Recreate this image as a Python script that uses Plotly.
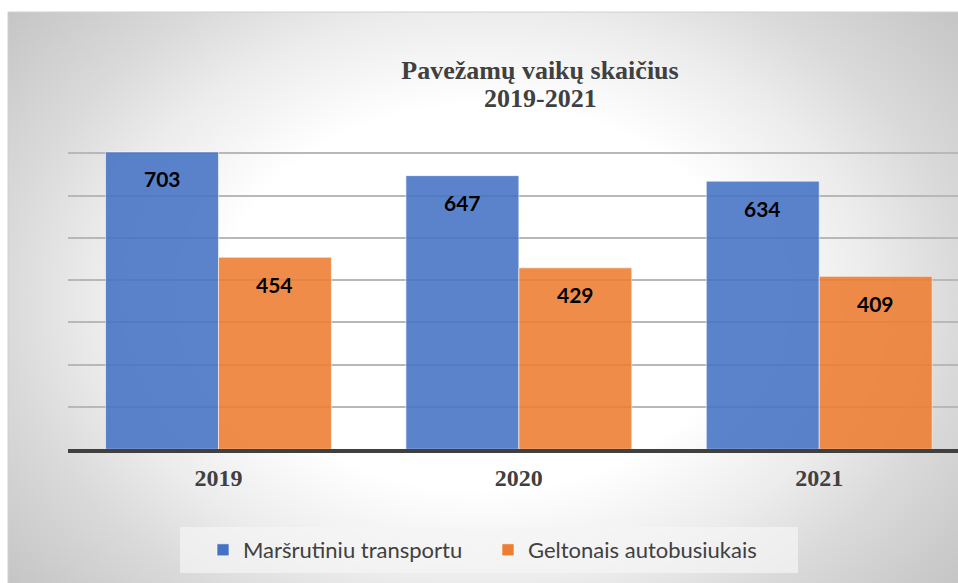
import plotly.graph_objects as go

years = ["2019", "2020", "2021"]
route_transport = [703, 647, 634]
yellow_buses = [454, 429, 409]
series_names = ["Maršrutiniu transportu", "Geltonais autobusiukais"]
title_line1 = "Pavežamų vaikų skaičius"
title_line2 = "2019-2021"

W, H = 958, 583
BLUE = "#4472C4"
ORANGE = "#ED7D31"
TEXT = "#404040"
bargap = 0.248


def px_x(v):
    return v / W


def px_y(v):
    return 1 - v / H


fig = go.Figure()

# radial gray background of the chart frame (its own invisible subplot, drawn first)
fig.add_trace(
    go.Scatter(
        x=[-0.15, 1.15, 1.15, -0.15, -0.15],
        y=[-0.3, -0.3, 1.3, 1.3, -0.3],
        fill="toself",
        mode="none",
        fillgradient=dict(
            type="radial",
            colorscale=[
                [0.0, "#ffffff"],
                [0.42, "#ffffff"],
                [0.625, "#ececec"],
                [0.77, "#dadada"],
                [1.0, "#c4c4c4"],
            ],
        ),
        hoverinfo="skip",
        showlegend=False,
        xaxis="x",
        yaxis="y",
    )
)

fig.add_trace(
    go.Bar(
        x=years,
        y=route_transport,
        name=series_names[0],
        marker=dict(color=BLUE, opacity=0.88, line=dict(color="rgba(255,255,255,0.6)", width=1)),
        xaxis="x2",
        yaxis="y2",
    )
)
fig.add_trace(
    go.Bar(
        x=years,
        y=yellow_buses,
        name=series_names[1],
        marker=dict(color=ORANGE, opacity=0.88, line=dict(color="rgba(255,255,255,0.6)", width=1)),
        xaxis="x2",
        yaxis="y2",
    )
)

# value labels just inside the top of each bar
half = (1 - bargap) / 4
for i, (a, b) in enumerate(zip(route_transport, yellow_buses)):
    for off, v in ((-half, a), (half, b)):
        fig.add_annotation(
            x=i + off, y=v, xref="x2", yref="y2",
            text=f"<b>{v}</b>", showarrow=False, yshift=-27,
            yanchor="middle",
            font=dict(family="Lato", size=21, color="black"),
        )

fig.add_annotation(
    x=px_x(540), y=px_y(99), xref="paper", yref="paper",
    text=f"<b>{title_line2}</b>", showarrow=False,
    xanchor="center", yanchor="middle",
    font=dict(family="Liberation Serif", size=26, color=TEXT),
)

# frame outline and legend box
fig.add_shape(type="rect", xref="paper", yref="paper",
              x0=px_x(8), x1=1.01, y0=-0.01, y1=px_y(12),
              line=dict(color="#d0d0d0", width=1), layer="above")
fig.add_shape(type="rect", xref="paper", yref="paper",
              x0=px_x(180), x1=px_x(798), y0=px_y(573), y1=px_y(527),
              line=dict(width=0), fillcolor="rgba(245,245,245,0.7)", layer="above")

fig.update_layout(
    width=W,
    height=H,
    margin=dict(l=0, r=0, t=0, b=0),
    paper_bgcolor="white",
    plot_bgcolor="rgba(0,0,0,0)",
    barmode="group",
    bargap=bargap,
    bargroupgap=0,
    title=dict(
        text=f"<b>{title_line1}</b>",
        x=px_x(540), xanchor="center",
        y=px_y(70), yanchor="middle",
        font=dict(family="Liberation Serif", size=26, color=TEXT),
    ),
    xaxis=dict(domain=[px_x(8), 1], range=[0, 1], visible=False, fixedrange=True),
    yaxis=dict(domain=[0, px_y(12)], range=[0, 1], visible=False, fixedrange=True),
    xaxis2=dict(
        domain=[px_x(68.3), 1],
        anchor="y2",
        type="category",
        range=[-0.5, 2.462],
        showline=True,
        linecolor=TEXT,
        linewidth=4,
        showgrid=False,
        ticks="",
        ticklabelstandoff=4,
        tickfont=dict(family="Liberation Serif", size=24, color=TEXT, weight="bold"),
    ),
    yaxis2=dict(
        domain=[px_y(449.3), px_y(110.7)],
        anchor="x2",
        range=[0, 800.5],
        dtick=100,
        showgrid=True,
        gridcolor="#b8b8b8",
        gridwidth=1.5,
        zeroline=False,
        showticklabels=False,
        ticks="",
    ),
    legend=dict(
        orientation="h",
        x=px_x(203),
        xanchor="left",
        y=px_y(550),
        yanchor="middle",
        bgcolor="rgba(0,0,0,0)",
        entrywidth=240,
        font=dict(family="Lato", size=22, color=TEXT),
    ),
)

fig.write_html(
    "out.html",
    config={"displayModeBar": False},
    post_script="document.body.style.margin='0';document.documentElement.style.overflow='hidden';",
)
